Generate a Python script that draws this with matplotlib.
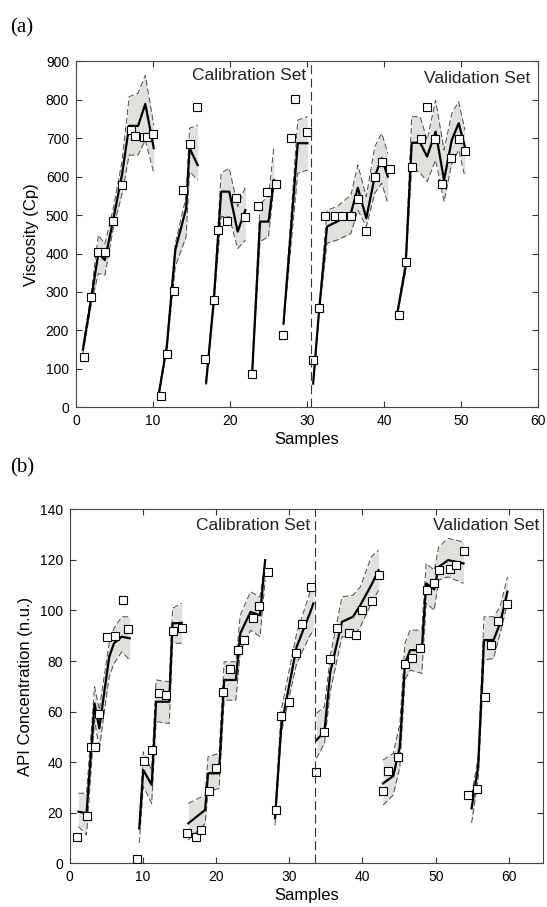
import matplotlib
matplotlib.use("Agg")
import matplotlib.pyplot as plt

plt.rcParams['font.family'] = ['Liberation Sans', 'DejaVu Sans']

# ---------------- (a) viscosity ----------------
visc_line_x = [
    [0.9, 2.0, 2.9, 3.75, 4.8, 6.0, 6.9, 8.06, 9.0, 10.1],
    [10.8, 11.8, 12.9, 14.3, 14.75, 15.8],
    [16.9, 17.9, 18.85, 19.9, 21.0, 22.0],
    [22.9, 23.9, 25.0, 25.7],
    [26.95, 28.8, 30.05],
    [30.8, 31.6, 32.6, 33.9, 35.7, 36.6, 37.7, 38.8, 39.7, 40.5],
    [41.8, 42.8, 43.6, 44.7, 45.6, 46.7, 47.8, 48.8, 49.7, 50.5],
]
visc_line_y = [
    [150, 285, 400, 383, 484, 608, 732, 732, 789, 674],
    [40, 160, 410, 517, 674, 630],
    [64, 279, 561, 561, 457, 513],
    [97, 483, 483, 591],
    [218, 687, 687],
    [62, 259, 470, 483, 505, 571, 492, 600, 648, 600],
    [253, 366, 688, 688, 652, 717, 591, 695, 739, 678],
]
visc_upper = [
    [160, 300, 448, 425, 513, 643, 808, 817, 864, 734],
    [45, 170, 426, 548, 726, 734],
    [70, 290, 609, 622, 522, 574],
    [100, 530, 548, 678],
    [222, 747, 756],
    [66, 265, 513, 522, 552, 630, 548, 678, 713, 660],
    [258, 380, 756, 756, 695, 799, 669, 765, 795, 721],
]
visc_lower = [
    [140, 270, 348, 344, 461, 557, 656, 656, 695, 609],
    [35, 150, 366, 444, 613, 591],
    [58, 268, 496, 496, 413, 435],
    [94, 431, 444, 574],
    [214, 609, 617],
    [58, 253, 427, 435, 452, 513, 470, 557, 583, 530],
    [248, 352, 626, 609, 587, 643, 535, 634, 669, 600],
]
visc_pts_x = [1.0, 2.0, 2.9, 3.75, 4.8, 6.0, 7.1, 7.7, 8.8, 9.2, 10.0,
              11.0, 11.8, 12.7, 13.9, 14.8, 15.7,
              16.8, 17.9, 18.5, 19.6, 20.8, 21.9,
              22.9, 23.7, 24.75, 25.96,
              26.9, 27.9, 28.5, 30.0,
              30.8, 31.6, 32.4, 33.7, 34.6, 35.7, 36.6, 37.6, 38.8, 39.7, 40.75,
              41.9, 42.8, 43.7, 44.8, 45.6, 46.6, 47.5, 48.7, 49.7, 50.5]
visc_pts_y = [130, 287, 404, 404, 484, 577, 720, 705, 702, 702, 712,
              30, 138, 303, 565, 684, 782,
              125, 279, 461, 485, 545, 494,
              87, 524, 561, 580,
              187, 701, 801, 715,
              123, 259, 498, 498, 498, 498, 543, 458, 598, 637, 620,
              240, 378, 624, 699, 782, 699, 580, 648, 699, 667]

# ---------------- (b) API concentration ----------------
api_line_x = [
    [1.2, 2.3, 3.4, 4.05, 4.5, 5.4, 6.05, 7.1, 8.2],
    [9.5, 10.05, 11.2, 11.8, 13.6, 14.05, 15.3],
    [16.2, 18.5, 18.9, 20.4, 21.1, 22.7, 23.3, 24.7, 26.0, 26.7],
    [28.05, 28.9, 31.0, 32.8, 33.3],
    [33.7, 34.8, 35.6, 37.2, 38.7, 39.7, 41.2, 42.2],
    [42.8, 44.2, 45.1, 45.8, 46.5, 48.1, 48.7, 49.8, 50.4, 51.7, 53.8],
    [54.9, 55.8, 56.6, 57.9, 58.8, 59.8],
]
api_line_y = [
    [20.4, 19.8, 63.2, 53.4, 63, 81.7, 87, 89.6, 89],
    [13.8, 36.9, 31, 63.9, 63.9, 94.9, 95.1],
    [15.8, 21.1, 35.6, 35.6, 72.5, 72.5, 90.9, 99.4, 98.1, 119.9],
    [17.8, 54, 85.6, 98.8, 102.8],
    [48.7, 52, 75.7, 95.5, 97.5, 102.1, 110, 115.9],
    [31.6, 34.5, 46.1, 79, 84.3, 84.3, 110.7, 108.3, 117.2, 119.9, 118.6],
    [21.7, 38.2, 88.3, 88.3, 94.9, 107.4],
]
api_upper = [
    [27.7, 27.7, 69.8, 60.6, 70, 87, 92.9, 97.5, 97.5],
    [15, 44.1, 36.9, 72.5, 71.8, 100.8, 103],
    [23.7, 27, 42.1, 43.5, 79.7, 79.7, 98.1, 107.4, 105.4, 119.9],
    [20, 60.6, 90.9, 107, 110.7],
    [59.3, 61.9, 82, 105.4, 106, 109.3, 121.2, 123.8],
    [40.8, 43.5, 55, 87, 92.2, 92.2, 118.6, 115.9, 125.1, 128.5, 127.1],
    [27, 42.1, 97.5, 97.5, 101.4, 113.3],
]
api_lower = [
    [14.5, 11.2, 56.6, 44.8, 55, 73.8, 79, 83.6, 80.4],
    [8, 30.3, 23.7, 56, 55.3, 87, 87],
    [9.2, 15.8, 28.3, 29.6, 64.5, 64.5, 83.6, 92.2, 89.6, 112],
    [15, 51.4, 79, 90, 92.2],
    [41.5, 47.4, 68, 89.6, 89.6, 93.5, 102.8, 108],
    [23, 27, 38, 72.5, 76.4, 75.1, 102.8, 100.1, 112, 113.3, 110.7],
    [16, 32.9, 80.4, 81, 90.9, 102.8],
]
api_pts_x = [0.96, 2.4, 2.9, 3.4, 4.05, 5.05, 6.2, 7.3, 8.0,
             9.15, 10.2, 11.3, 12.25, 13.15, 14.1, 15.4,
             16.0, 17.3, 18.0, 19.0, 20.0, 21.0, 21.9, 23.0, 23.8, 25.1, 25.9, 27.1,
             28.2, 28.9, 30.0, 30.9, 31.8, 32.9,
             33.7, 34.8, 35.6, 36.5, 38.1, 39.1, 39.9, 41.3, 42.2,
             42.8, 43.5, 44.9, 45.85, 46.8, 47.9, 48.8, 49.7, 50.5, 51.95, 52.8, 53.8,
             54.45, 55.7, 56.7, 57.5, 58.55, 59.7]
api_pts_y = [10.5, 18.8, 46, 46, 58.9, 89.6, 90, 104.3, 92.6,
             1.6, 40.4, 44.8, 67.2, 66.5, 91.8, 92.9,
             11.9, 10.5, 13.2, 28.7, 37.8, 67.8, 76.8, 84.3, 88.3, 97.1, 101.7, 115.3,
             21.1, 58.2, 63.9, 83.2, 94.6, 109.3,
             36.2, 52, 80.6, 93, 91.1, 90.4, 100.1, 103.8, 114.2,
             28.7, 36.5, 41.9, 78.7, 81, 85, 108, 110.7, 115.9, 116.4, 118, 123.4,
             27, 29.2, 65.9, 86.3, 95.8, 102.4]


def draw_panel(ax, lx, ly, up, lo, px, py):
    for x, y, u, l in zip(lx, ly, up, lo):
        ax.fill_between(x, l, u, color='#e2e0dc', linewidth=0, zorder=1)
        ax.plot(x, u, color='#4a4a4a', lw=0.7, ls=(0, (6, 3)), zorder=2)
        ax.plot(x, l, color='#4a4a4a', lw=0.7, ls=(0, (6, 3)), zorder=2)
        ax.plot(x, y, color='black', lw=1.6, zorder=3)
    ax.plot(px, py, 's', ms=5.6, mfc='white', mec='black', mew=0.8, ls='none', zorder=4)
    ax.tick_params(direction='in', top=True, right=True, length=4, labelsize=10,
                   color='#333333', pad=5)
    for s in ax.spines.values():
        s.set_color('#444444')
        s.set_linewidth(0.8)


fig = plt.figure(figsize=(5.47, 9.07), dpi=100)

ax1 = fig.add_axes([76 / 547, 1 - 407.3 / 907, 462 / 547, 346 / 907])
draw_panel(ax1, visc_line_x, visc_line_y, visc_upper, visc_lower, visc_pts_x, visc_pts_y)
ax1.set_xlim(0, 60)
ax1.set_ylim(0, 900)
ax1.set_xticks(range(0, 61, 10))
ax1.set_yticks(range(0, 901, 100))
ax1.axvline(30.5, color='#333333', lw=0.8, ls=(0, (8, 4)), zorder=5)
ax1.text(29.9, 862, 'Calibration Set', ha='right', va='center', fontsize=12.5, color='#222222')
ax1.text(59.0, 855, 'Validation Set', ha='right', va='center', fontsize=12.5, color='#222222')
ax1.set_xlabel('Samples', fontsize=12, labelpad=3)
ax1.set_ylabel('Viscosity (Cp)', fontsize=12, labelpad=5)

ax2 = fig.add_axes([69.7 / 547, 1 - 863.3 / 907, 473.6 / 547, 354 / 907])
draw_panel(ax2, api_line_x, api_line_y, api_upper, api_lower, api_pts_x, api_pts_y)
ax2.set_xlim(0, 64.7)
ax2.set_ylim(0, 140)
ax2.set_xticks(range(0, 61, 10))
ax2.set_yticks(range(0, 141, 20))
ax2.axvline(33.5, color='#333333', lw=0.8, ls=(0, (8, 4)), zorder=5)
ax2.text(32.9, 133.7, 'Calibration Set', ha='right', va='center', fontsize=12.5, color='#222222')
ax2.text(64.2, 133.7, 'Validation Set', ha='right', va='center', fontsize=12.5, color='#222222')
ax2.set_xlabel('Samples', fontsize=12, labelpad=3)
ax2.set_ylabel('API Concentration (n.u.)', fontsize=12, labelpad=5)

fig.text(10 / 547, 1 - 28 / 907, '(a)', fontsize=15, family=['Liberation Serif', 'DejaVu Serif'],
         ha='left', va='center')
fig.text(10 / 547, 1 - 468 / 907, '(b)', fontsize=15, family=['Liberation Serif', 'DejaVu Serif'],
         ha='left', va='center')

fig.savefig('out.png', dpi=100)
